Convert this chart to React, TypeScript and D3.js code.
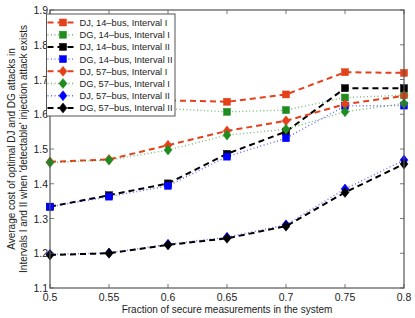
import React, { useRef, useEffect } from "react";
import * as d3 from "d3";

// fraction of secure measurements
const fractions = [0.5, 0.55, 0.6, 0.65, 0.7, 0.75, 0.8];

const dj14I = [1.645, 1.645, 1.64, 1.636, 1.657, 1.721, 1.719];
const dg14I = [1.62, 1.62, 1.616, 1.607, 1.612, 1.648, 1.655];
const dj14II = [1.334, 1.367, 1.401, 1.486, 1.55, 1.675, 1.675];
const dg14II = [1.334, 1.363, 1.394, 1.478, 1.531, 1.624, 1.625];
const dj57I = [1.463, 1.47, 1.511, 1.552, 1.581, 1.629, 1.653];
const dg57I = [1.461, 1.468, 1.497, 1.54, 1.557, 1.607, 1.631];
const dj57II = [1.197, 1.201, 1.226, 1.246, 1.282, 1.385, 1.468];
const dg57II = [1.195, 1.2, 1.224, 1.243, 1.278, 1.375, 1.457];

const xTicks = [0.5, 0.55, 0.6, 0.65, 0.7, 0.75, 0.8];
const yTicks = [1.1, 1.2, 1.3, 1.4, 1.5, 1.6, 1.7, 1.8, 1.9];

const RED = "#e4401a";
const GREEN = "#1e8c1e";
const BLUE = "#0000ff";
const BLACK = "#000000";

const series = [
  { name: "DJ, 14\u2013bus, Interval I", values: dj14I, color: RED, dash: "dashed", marker: "square" },
  { name: "DG, 14\u2013bus, Interval I", values: dg14I, color: GREEN, dash: "dotted", marker: "square" },
  { name: "DJ, 14\u2013bus, Interval II", values: dj14II, color: BLACK, dash: "dashed", marker: "square" },
  { name: "DG, 14\u2013bus, Interval II", values: dg14II, color: BLUE, dash: "dotted", marker: "square" },
  { name: "DJ, 57\u2013bus, Interval I", values: dj57I, color: RED, dash: "dashed", marker: "diamond" },
  { name: "DG, 57\u2013bus, Interval I", values: dg57I, color: GREEN, dash: "dotted", marker: "diamond" },
  { name: "DJ, 57\u2013bus, Interval II", values: dj57II, color: BLUE, dash: "dotted", marker: "diamond" },
  { name: "DG, 57\u2013bus, Interval II", values: dg57II, color: BLACK, dash: "dashed", marker: "diamond" },
];

const App = () => {
  const svgRef = useRef(null);

  useEffect(() => {
    const width = 415;
    const height = 318;
    const margin = { top: 10, right: 11, bottom: 30, left: 50 };
    const font = "'Liberation Sans', Arial, sans-serif";
    const axisColor = "#555";

    const x = d3.scaleLinear().domain([0.5, 0.8]).range([margin.left, width - margin.right]);
    const y = d3.scaleLinear().domain([1.1, 1.9]).range([height - margin.bottom, margin.top]);

    const svg = d3.select(svgRef.current);
    svg.selectAll("*").remove();
    svg.attr("width", width).attr("height", height).style("font-family", font);

    svg.append("rect").attr("width", width).attr("height", height).attr("fill", "white");

    const dashOf = (d) => (d === "dashed" ? "6,4" : "1,2.5");
    const widthOf = (d) => (d === "dashed" ? 2 : 1.4);

    const symbol = (g, kind, color, cx, cy) => {
      if (kind === "square") {
        g.append("rect")
          .attr("x", cx - 3.5)
          .attr("y", cy - 3.5)
          .attr("width", 7)
          .attr("height", 7)
          .attr("fill", color)
          .attr("stroke", color)
          .attr("stroke-width", 0.5);
      } else {
        g.append("path")
          .attr("d", `M${cx},${cy - 5}L${cx + 4},${cy}L${cx},${cy + 5}L${cx - 4},${cy}Z`)
          .attr("fill", color)
          .attr("stroke", color)
          .attr("stroke-width", 0.5);
      }
    };

    const line = d3
      .line()
      .x((d, i) => x(fractions[i]))
      .y((d) => y(d));

    const plot = svg.append("g");
    series.forEach((s) => {
      const g = plot.append("g");
      g.append("path")
        .attr("d", line(s.values))
        .attr("fill", "none")
        .attr("stroke", s.color)
        .attr("stroke-width", widthOf(s.dash))
        .attr("stroke-dasharray", dashOf(s.dash))
        .attr("opacity", s.dash === "dotted" ? 0.6 : 1);
      s.values.forEach((v, i) => symbol(g, s.marker, s.color, x(fractions[i]), y(v)));
    });

    // frame + ticks
    const left = x(0.5), right = x(0.8), top = y(1.9), bottom = y(1.1);
    svg.append("rect")
      .attr("x", left)
      .attr("y", top)
      .attr("width", right - left)
      .attr("height", bottom - top)
      .attr("fill", "none")
      .attr("stroke", axisColor)
      .attr("stroke-width", 1.2);

    const ticks = svg.append("g").attr("stroke", axisColor).attr("stroke-width", 0.8);
    xTicks.forEach((t) => {
      ticks.append("line").attr("x1", x(t)).attr("x2", x(t)).attr("y1", bottom).attr("y2", bottom - 4);
      ticks.append("line").attr("x1", x(t)).attr("x2", x(t)).attr("y1", top).attr("y2", top + 4);
    });
    yTicks.forEach((t) => {
      ticks.append("line").attr("x1", left).attr("x2", left + 4).attr("y1", y(t)).attr("y2", y(t));
      ticks.append("line").attr("x1", right).attr("x2", right - 4).attr("y1", y(t)).attr("y2", y(t));
    });

    svg.append("g")
      .attr("font-size", 10.5)
      .attr("fill", "#222")
      .attr("text-anchor", "middle")
      .selectAll("text")
      .data(xTicks)
      .join("text")
      .attr("x", (d) => x(d))
      .attr("y", bottom + 13)
      .text((d) => String(d));

    svg.append("g")
      .attr("font-size", 10.5)
      .attr("fill", "#222")
      .attr("text-anchor", "end")
      .selectAll("text")
      .data(yTicks)
      .join("text")
      .attr("x", left - 2)
      .attr("y", (d) => y(d) + 4)
      .text((d) => d.toFixed(1));

    svg.append("text")
      .attr("x", (left + right) / 2)
      .attr("y", bottom + 25)
      .attr("text-anchor", "middle")
      .attr("font-size", 10)
      .attr("fill", "#222")
      .text("Fraction of secure measurements in the system");

    const ylab = svg.append("g")
      .attr("transform", `translate(0,${(top + bottom) / 2}) rotate(-90)`)
      .attr("font-size", 10)
      .attr("fill", "#222")
      .attr("text-anchor", "middle");
    ylab.append("text").attr("x", 0).attr("y", 15).text("Average cost of optimal DJ and DG attacks in");
    ylab.append("text").attr("x", 0).attr("y", 27).text("Intervals I and II when 'detectable' injection attack exists");

    // legend
    const lg = svg.append("g");
    const lx = left - 3.5;
    lg.append("rect")
      .attr("x", lx)
      .attr("y", 14)
      .attr("width", 128.5)
      .attr("height", 102)
      .attr("fill", "white")
      .attr("stroke", axisColor)
      .attr("stroke-width", 1);
    series.forEach((s, i) => {
      const cy = 22.5 + i * 12.2;
      const g = lg.append("g");
      g.append("line")
        .attr("x1", lx + 1)
        .attr("x2", lx + 29)
        .attr("y1", cy)
        .attr("y2", cy)
        .attr("stroke", s.color)
        .attr("stroke-width", widthOf(s.dash))
        .attr("stroke-dasharray", dashOf(s.dash))
        .attr("opacity", s.dash === "dotted" ? 0.6 : 1);
      symbol(g, s.marker, s.color, left + 13, cy);
      g.append("text")
        .attr("x", left + 29.5)
        .attr("y", cy + 3.5)
        .attr("font-size", 9.3)
        .attr("fill", "#222")
        .text(s.name);
    });
  }, []);

  return (
    <div style={{ position: "absolute", left: 0, top: 0 }}>
      <svg ref={svgRef} style={{ display: "block" }}></svg>
    </div>
  );
};

export default App;
